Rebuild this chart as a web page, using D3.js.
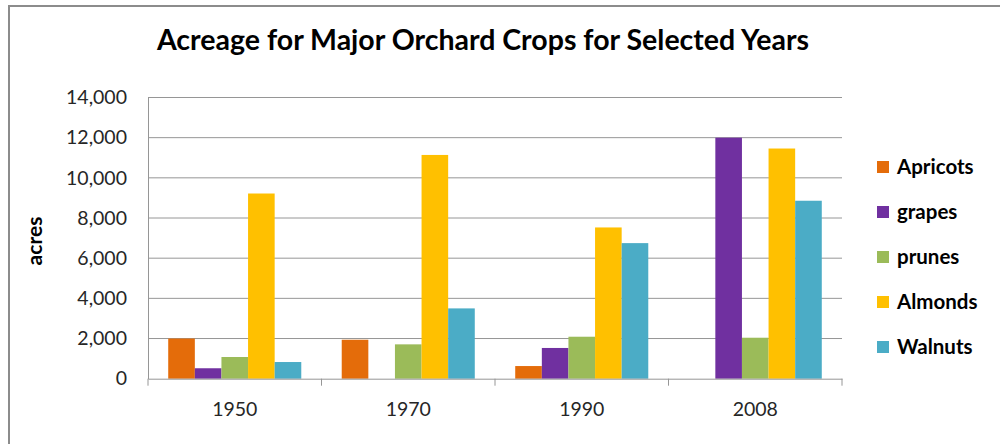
<!DOCTYPE html>
<html><head><meta charset="utf-8">
<script src="https://cdn.jsdelivr.net/npm/d3@7"></script>
<style>body{margin:0;background:#fff}svg{display:block}</style>
</head><body>
<script>
const years = ["1950", "1970", "1990", "2008"];
const seriesNames = ["Apricots", "grapes", "prunes", "Almonds", "Walnuts"];
const seriesColors = ["#E46C0A", "#7030A0", "#9BBB59", "#FFC000", "#4BACC6"];
const apricots = [2000, 1940, 630, 0];
const grapes = [520, 0, 1530, 12000];
const prunes = [1080, 1710, 2090, 2040];
const almonds = [9220, 11140, 7530, 11460];
const walnuts = [830, 3500, 6750, 8860];
const yTicks = [0, 2000, 4000, 6000, 8000, 10000, 12000, 14000];

const values = [apricots, grapes, prunes, almonds, walnuts];
const W = 1000, H = 444;
const FONT = "Lato, 'Liberation Sans', sans-serif";
const svg = d3.select("body").append("svg").attr("width", W).attr("height", H);

// outer border
svg.append("path").attr("d", `M9,${H} V6 H${W}`).attr("fill", "none")
  .attr("stroke", "#8c8c8c").attr("stroke-width", 2);

const m = {left: 148, right: 842, top: 97.5, bottom: 378.7};
const x0 = d3.scaleBand().domain(years).range([m.left, m.right]).paddingInner(0).paddingOuter(0);
const x1 = d3.scaleBand().domain(seriesNames).range([0, x0.bandwidth()]).paddingOuter(0.76).paddingInner(0);
const y = d3.scaleLinear().domain([0, 14000]).range([m.bottom, m.top]);

// gridlines
svg.append("g").selectAll("line").data(yTicks.filter(d => d > 0)).join("line")
  .attr("x1", m.left).attr("x2", m.right)
  .attr("y1", d => y(d)).attr("y2", d => y(d))
  .attr("stroke", "#969696").attr("stroke-width", 1);

// bars
const g = svg.append("g");
years.forEach((yr, i) => {
  seriesNames.forEach((s, j) => {
    const v = values[j][i];
    if (v <= 0) return;
    g.append("rect")
      .attr("x", x0(yr) + x1(s))
      .attr("width", x1.bandwidth())
      .attr("y", y(v))
      .attr("height", y(0) - y(v))
      .attr("fill", seriesColors[j]);
  });
});

// y axis
const yAxis = d3.axisLeft(y).tickValues(yTicks).tickSize(0).tickPadding(21)
  .tickFormat(d3.format(","));
const ya = svg.append("g").attr("transform", `translate(${m.left},0)`).call(yAxis);
ya.select(".domain").attr("stroke", "#969696");
ya.selectAll("text").attr("font-family", FONT).attr("font-size", 19.5).attr("fill", "#262626");

// x axis
const xAxis = d3.axisBottom(x0).tickSize(0).tickPadding(23);
const xa = svg.append("g").attr("transform", `translate(0,${m.bottom})`).call(xAxis);
xa.select(".domain").attr("stroke", "#969696");
xa.selectAll("text").attr("font-family", FONT).attr("font-size", 19.5).attr("fill", "#262626");
// category boundary ticks
const bounds = years.map(d => x0(d)).concat([m.right]);
svg.append("g").selectAll("line").data(bounds).join("line")
  .attr("x1", d => d).attr("x2", d => d)
  .attr("y1", m.bottom).attr("y2", m.bottom + 7)
  .attr("stroke", "#969696");

// title
svg.append("text").attr("x", 483).attr("y", 50).attr("text-anchor", "middle")
  .attr("font-family", FONT).attr("font-weight", "bold").attr("font-size", 28.5)
  .attr("fill", "#000").text("Acreage for Major Orchard Crops for Selected Years");

// y label
svg.append("text").attr("transform", "translate(42,241) rotate(-90)")
  .attr("text-anchor", "middle").attr("font-family", FONT).attr("font-weight", "bold")
  .attr("font-size", 21).attr("fill", "#000").text("acres");

// legend
const leg = svg.append("g");
seriesNames.forEach((s, j) => {
  const cy = 167 + j * 45;
  leg.append("rect").attr("x", 877).attr("y", cy - 6).attr("width", 12).attr("height", 12)
    .attr("fill", seriesColors[j]);
  leg.append("text").attr("x", 897).attr("y", cy + 7).attr("font-family", FONT)
    .attr("font-weight", "bold").attr("font-size", 20.5).attr("fill", "#000").text(s);
});
</script>
</body></html>
